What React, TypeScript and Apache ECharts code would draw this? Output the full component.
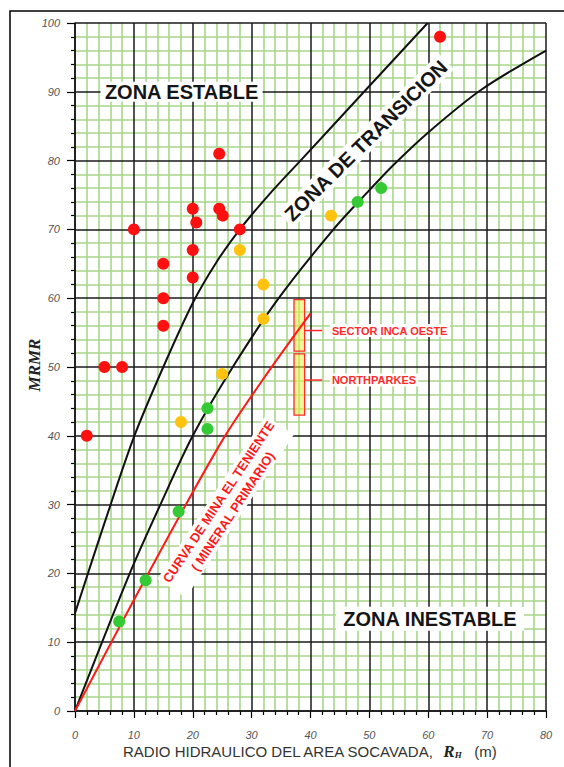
import React, { useEffect, useRef } from "react";
import * as echarts from "echarts";

// ---- axis ranges ----
const X_MIN = 0;
const X_MAX = 80;
const X_STEP = 10;
const Y_MIN = 0;
const Y_MAX = 100;
const Y_STEP = 10;

// ---- case histories (RH, MRMR) ----
const stableCases: number[][] = [
  [2, 40], [5, 50], [8, 50], [10, 70], [15, 56], [15, 60], [15, 65],
  [20, 63], [20, 67], [20, 73], [20.6, 71], [24.5, 81], [24.5, 73],
  [25.1, 72], [28, 70], [62, 98],
];
const transitionCases: number[][] = [
  [18, 42], [25, 49], [28, 67], [32, 57], [32, 62], [43.5, 72],
];
const unstableCases: number[][] = [
  [7.5, 13], [12, 19], [17.6, 29], [22.5, 41], [22.5, 44], [48, 74], [52, 76],
];

// ---- boundary curves ----
const upperCurve: number[][] = [
  [0, 14.2], [5, 27.3], [10, 39.8], [15, 50], [20, 59.3], [24, 65.2], [28, 70],
  [33, 75.1], [38.3, 80], [49.1, 90], [59.9, 100],
];
const lowerCurve: number[][] = [
  [0, 0], [9.3, 20], [14.5, 30], [20, 40], [26.8, 50], [34.6, 60], [43.9, 70],
  [50, 75.7], [54, 79.3], [60, 84.1], [69, 90.3], [80, 96],
];
const tenienteCurve: number[][] = [
  [0, 0], [12, 19.3], [25, 39.3], [33, 49.5], [40, 57.8],
];

// ---- sector ranges ----
const sectorNames = ["SECTOR INCA OESTE", "NORTHPARKES"];
const sectorRhRange = [[37.2, 39.0], [37.2, 39.0]];
const sectorMrmrRange = [[52.3, 59.8], [43.0, 51.9]];
const sectorLabelMrmr = [55.3, 48.1];

const zoneLabels = ["ZONA ESTABLE", "ZONA DE TRANSICION", "ZONA INESTABLE"];
const curveLabel = "CURVA DE MINA EL TENIENTE\n( MINERAL PRIMARIO)";

const SANS = '"Liberation Sans", Arial, sans-serif';
const SERIF = '"Liberation Serif", "Times New Roman", serif';

export default function App() {
  const ref = useRef<HTMLDivElement>(null);

  useEffect(() => {
    const el = ref.current!;
    const chart = echarts.init(el, null, { renderer: "svg" });
    const tickLabel = {
      fontStyle: "italic",
      fontSize: 11,
      color: "#555",
      fontFamily: SANS,
    };
    const majorLine = { color: "#1a1a1a", width: 1.5 };
    const minorLine = { color: "#a8d68a", width: 1.6 };

    chart.setOption({
      animation: false,
      grid: { left: 75, right: 18, top: 23, bottom: 56, containLabel: false },
      xAxis: [
        {
          type: "value", min: X_MIN, max: X_MAX, interval: X_STEP, position: "bottom", z: 0,
          axisLine: { show: true, onZero: false, lineStyle: { color: "#000", width: 1.5 } },
          axisTick: { show: true, length: 7, lineStyle: { color: "#000", width: 1.2 } },
          minorTick: { show: true, splitNumber: 5, length: 4, lineStyle: { color: "#000", width: 1.2 } },
          axisLabel: { ...tickLabel, margin: 18 },
          splitLine: { show: false },
          minorSplitLine: { show: true, lineStyle: minorLine },
        },
        {
          type: "value", min: X_MIN, max: X_MAX, interval: X_STEP, position: "top", z: 1,
          axisLine: { show: false }, axisTick: { show: false }, axisLabel: { show: false },
          splitLine: { show: true, lineStyle: majorLine },
        },
      ],
      yAxis: [
        {
          type: "value", min: Y_MIN, max: Y_MAX, interval: Y_STEP, position: "left", z: 0,
          axisLine: { show: true, onZero: false, lineStyle: { color: "#000", width: 1.5 } },
          axisTick: { show: true, length: 8, lineStyle: { color: "#000", width: 1.2 } },
          minorTick: { show: true, splitNumber: 5, length: 4, lineStyle: { color: "#000", width: 1.2 } },
          axisLabel: { ...tickLabel, margin: 15 },
          splitLine: { show: false },
          minorSplitLine: { show: true, lineStyle: minorLine },
        },
        {
          type: "value", min: Y_MIN, max: Y_MAX, interval: Y_STEP, position: "right", z: 1,
          axisLine: { show: false }, axisTick: { show: false }, axisLabel: { show: false },
          splitLine: { show: true, lineStyle: majorLine },
        },
      ],
      series: [
        {
          type: "line", data: upperCurve, smooth: 0.3, symbol: "none", z: 3,
          lineStyle: { color: "#111", width: 2 }, silent: true,
        },
        {
          type: "line", data: lowerCurve, smooth: 0.3, symbol: "none", z: 3,
          lineStyle: { color: "#111", width: 2 }, silent: true,
        },
        {
          type: "line", data: tenienteCurve, smooth: 0.3, symbol: "none", z: 3,
          lineStyle: { color: "#ff1a1a", width: 2 }, silent: true,
        },
        {
          type: "scatter", data: stableCases, symbolSize: 12, z: 4,
          itemStyle: { color: "#ff1010", opacity: 1 },
        },
        {
          type: "scatter", data: transitionCases, symbolSize: 12, z: 4,
          itemStyle: { color: "#ffc20e", opacity: 1 },
        },
        {
          type: "scatter", data: unstableCases, symbolSize: 12, z: 4,
          itemStyle: { color: "#35c935", opacity: 1 },
        },
      ],
    });

    const P = (x: number, y: number) =>
      chart.convertToPixel({ gridIndex: 0 } as any, [x, y]) as number[];

    const g: any[] = [];
    // outer frame
    g.push({
      type: "rect", silent: true, z: 10,
      shape: { x: 10, y: 11, width: 900, height: 900 },
      style: { fill: "none", stroke: "#000", lineWidth: 1.5 },
    });

    // sector boxes + labels
    sectorNames.forEach((name, i) => {
      const a = P(sectorRhRange[i][0], sectorMrmrRange[i][1]);
      const c = P(sectorRhRange[i][1], sectorMrmrRange[i][0]);
      g.push({
        type: "rect", z: 2,
        shape: { x: a[0], y: a[1], width: c[0] - a[0], height: c[1] - a[1] },
        style: { fill: "rgba(230,240,70,0.55)", stroke: "#ff2a2a", lineWidth: 1.3 },
      });
      const l0 = P(sectorRhRange[i][1], sectorLabelMrmr[i]);
      const l1 = P(42, sectorLabelMrmr[i]);
      g.push({
        type: "line", z: 2,
        shape: { x1: l0[0], y1: l0[1], x2: l1[0], y2: l1[1] },
        style: { stroke: "#ff2a2a", lineWidth: 1.5 },
      });
      const t = P(43.3, sectorLabelMrmr[i]);
      g.push({
        type: "text", z: 2, x: t[0], y: t[1],
        style: {
          text: name, font: `bold 11px ${SANS}`, fill: "#ff2a2a",
          textAlign: "left", textVerticalAlign: "middle",
          backgroundColor: "#fff", padding: [1, 2],
        },
      });
    });

    // zone labels
    const zEst = P(18.1, 90);
    g.push({
      type: "text", z: 2, x: zEst[0], y: zEst[1],
      style: {
        text: zoneLabels[0], font: `bold 20px ${SANS}`, fill: "#151515",
        textAlign: "center", textVerticalAlign: "middle",
        backgroundColor: "#fff", padding: [0, 4],
      },
    });
    const zTr = P(49.4, 82.9);
    g.push({
      type: "text", z: 2, x: zTr[0], y: zTr[1], rotation: (44.5 * Math.PI) / 180,
      style: {
        text: zoneLabels[1], font: `bold 20px ${SANS}`, fill: "#151515",
        textAlign: "center", textVerticalAlign: "middle",
        backgroundColor: "#fff", padding: [1, 3],
      },
    });
    const zIn = P(60.3, 13.4);
    g.push({
      type: "text", z: 2, x: zIn[0], y: zIn[1],
      style: {
        text: zoneLabels[2], font: `bold 20px ${SANS}`, fill: "#151515",
        textAlign: "center", textVerticalAlign: "middle",
        backgroundColor: "#fff", padding: [2, 7],
      },
    });

    // red curve label
    const cl = P(25.6, 29.7);
    g.push({
      type: "text", z: 2, x: cl[0], y: cl[1], rotation: (56.5 * Math.PI) / 180,
      style: {
        text: curveLabel, font: `bold 13px ${SANS}`, fill: "#ff1a1a",
        textAlign: "center", textVerticalAlign: "middle", lineHeight: 17,
        backgroundColor: "#fff", padding: [0, 2],
      },
    });

    // axis titles
    g.push({
      type: "text", z: 5, x: 123, y: 751,
      style: {
        text: "{a|RADIO HIDRAULICO DEL AREA SOCAVADA,}{s|  }{r|R}{h|H}{s|   }{a|(m)}",
        textAlign: "left", textVerticalAlign: "middle",
        rich: {
          a: { fontSize: 15, fontFamily: SANS, fill: "#333" },
          s: { fontSize: 15, fontFamily: SANS, fill: "#333" },
          r: { fontSize: 17, fontFamily: SERIF, fontWeight: "bold", fontStyle: "italic", fill: "#222" },
          h: { fontSize: 9, fontFamily: SERIF, fontWeight: "bold", fontStyle: "italic", fill: "#222", verticalAlign: "bottom", padding: [6, 0, 0, 0] },
        },
      },
    });
    g.push({
      type: "text", z: 5, x: 34, y: 365, rotation: Math.PI / 2,
      style: {
        text: "MRMR", font: `italic bold 17px ${SERIF}`, fill: "#222",
        textAlign: "center", textVerticalAlign: "middle",
      },
    });

    chart.setOption({ graphic: g });

    return () => {
      chart.dispose();
    };
  }, []);

  return (
    <div
      ref={ref}
      style={{ position: "absolute", left: 0, top: 0, width: 564, height: 767, background: "#fff" }}
    />
  );
}
